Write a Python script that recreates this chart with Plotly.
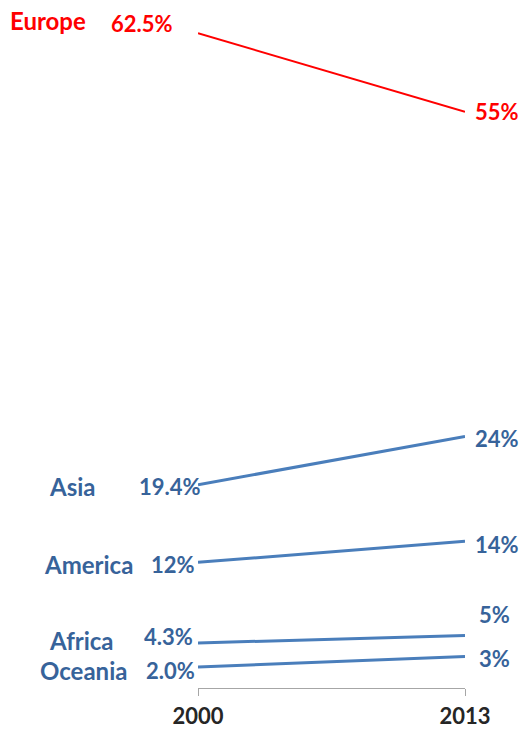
import plotly.graph_objects as go

# ---- data ----
years = [2000, 2013]
regions = ["Europe", "Asia", "America", "Africa", "Oceania"]
share_2000 = [62.5, 19.4, 12, 4.3, 2.0]
share_2013 = [55, 24, 14, 5, 3]
labels_2000 = ["62.5%", "19.4%", "12%", "4.3%", "2.0%"]
labels_2013 = ["55%", "24%", "14%", "5%", "3%"]
year_labels = ["2000", "2013"]

# ---- styles ----
RED = "#FF0000"
BLUE_LINE = "#4A7EBB"
BLUE_TEXT = "#37639A"
FONT = "Lato"
FS = 22
FS_NAME = 24

line_colors = {"Europe": RED}
text_colors = {"Europe": RED}
line_widths = {"Europe": 2}

# label offsets (pixels): (name_xshift, name_yshift, v0_xshift, v0_yshift, v1_xshift, v1_yshift)
offsets = {
    "Europe":  (-150, 13, -23, 10, 8, 0),
    "Asia":    (-126, -2, 5, -2, 8, -2),
    "America": (-110, -2, -1, -2, 8, -3),
    "Africa":  (-117, 2, -3, 6, 12, 21),
    "Oceania": (-115, -3, -1, -3, 12, -2),
}

fig = go.Figure()
annotations = []
for i, r in enumerate(regions):
    lc = line_colors.get(r, BLUE_LINE)
    tc = text_colors.get(r, BLUE_TEXT)
    lw = line_widths.get(r, 3)
    fig.add_trace(go.Scatter(
        x=years, y=[share_2000[i], share_2013[i]], mode="lines",
        line=dict(color=lc, width=lw), cliponaxis=False, showlegend=False,
        hoverinfo="skip"))
    nx, ny, v0x, v0y, v1x, v1y = offsets[r]
    f = dict(family=FONT, size=FS, color=tc, weight="bold")
    fn = dict(family=FONT, size=FS_NAME, color=tc, weight="bold")
    annotations.append(dict(x=years[0], y=share_2000[i], text=r, showarrow=False,
                            xanchor="center", yanchor="middle", xshift=nx, yshift=ny, font=fn))
    annotations.append(dict(x=years[0], y=share_2000[i], text=labels_2000[i], showarrow=False,
                            xanchor="right", yanchor="middle", xshift=v0x, yshift=v0y, font=f))
    annotations.append(dict(x=years[1], y=share_2013[i], text=labels_2013[i], showarrow=False,
                            xanchor="left", yanchor="middle", xshift=v1x, yshift=v1y, font=f))

fig.update_layout(
    width=531, height=731,
    margin=dict(l=198, r=66, t=7, b=43, autoexpand=False),
    paper_bgcolor="white", plot_bgcolor="white",
    annotations=annotations,
    xaxis=dict(range=[years[0], years[1]], tickvals=years, ticktext=year_labels,
               showgrid=False, zeroline=False, showline=True, linecolor="#A6A6A6",
               linewidth=1, ticks="outside", ticklen=7, tickcolor="#A6A6A6",
               tickfont=dict(family=FONT, size=FS, color="#262626", weight="bold"),
               ticklabelstandoff=2),
    yaxis=dict(range=[0, 65], visible=False, showgrid=False, zeroline=False),
)

fig.write_html("out.html", config={"displayModeBar": False},
               post_script="document.body.style.margin='0';")
